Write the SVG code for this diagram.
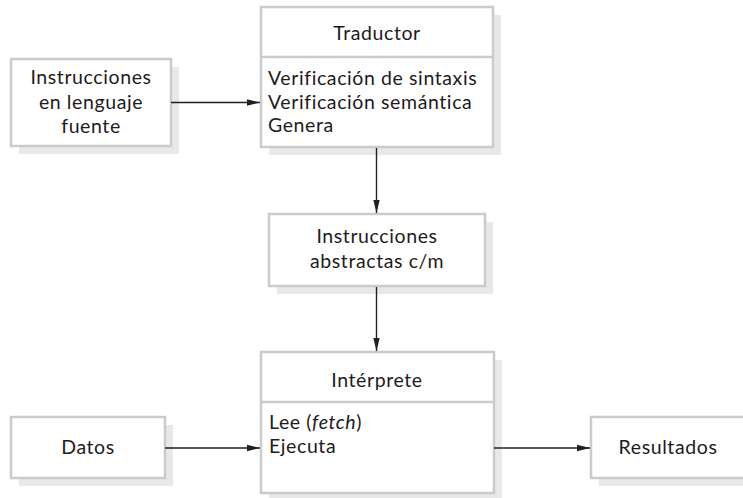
<svg xmlns="http://www.w3.org/2000/svg" width="743" height="498" viewBox="0 0 743 498">
<style>
.box{fill:#fff;stroke:#cbcbcb;stroke-width:2.5}
.sh{fill:#e8e8e8}
.div{stroke:#cbcbcb;stroke-width:2.5}
text{font-family:Lato,"Open Sans",sans-serif;font-size:19.5px;letter-spacing:0.6px;fill:#1e1b1c}
.c{text-anchor:middle}
.ln{stroke:#231f20;stroke-width:1.4;fill:none}
</style>
<defs>
<marker id="ah" markerWidth="13" markerHeight="8" refX="13" refY="4" orient="auto" markerUnits="userSpaceOnUse">
<path d="M0,0.8 L13,4 L0,7.2 Z" fill="#231f20"/>
</marker>
</defs>
<g id="fuente">
<rect class="sh" x="19" y="67" width="160" height="87"/>
<rect class="box" x="11" y="59" width="160" height="87"/>
<text class="c" x="91" y="84">Instrucciones</text>
<text class="c" x="91" y="109">en lenguaje</text>
<text class="c" x="91" y="133">fuente</text>
</g>
<g id="traductor">
<rect class="sh" x="269" y="15" width="232" height="140"/>
<rect class="box" x="261" y="7" width="232" height="140"/>
<line class="div" x1="261" y1="57" x2="493" y2="57"/>
<text class="c" x="377" y="40">Traductor</text>
<text x="268" y="85">Verificación de sintaxis</text>
<text x="268" y="108.5">Verificación semántica</text>
<text x="268" y="132">Genera</text>
</g>
<g id="abstractas">
<rect class="sh" x="277" y="222" width="216" height="72"/>
<rect class="box" x="269" y="214" width="216" height="72"/>
<text class="c" x="377" y="243">Instrucciones</text>
<text class="c" x="377" y="268">abstractas c/m</text>
</g>
<g id="interprete">
<rect class="sh" x="269" y="360" width="233" height="141"/>
<rect class="box" x="261" y="352" width="233" height="141"/>
<line class="div" x1="261" y1="402" x2="494" y2="402"/>
<text class="c" x="377" y="387">Intérprete</text>
<text x="269" y="429">Lee (<tspan font-style="italic">fetch</tspan>)</text>
<text x="269" y="453">Ejecuta</text>
</g>
<g id="datos">
<rect class="sh" x="19" y="425" width="154" height="61"/>
<rect class="box" x="11" y="417" width="154" height="61"/>
<text class="c" x="88" y="454">Datos</text>
</g>
<g id="resultados">
<rect class="sh" x="599" y="425" width="160" height="61"/>
<rect class="box" x="591" y="417" width="160" height="61"/>
<text class="c" x="668" y="454">Resultados</text>
</g>
<g id="connectors">
<line class="ln" x1="171" y1="102.5" x2="260" y2="102.5" marker-end="url(#ah)"/>
<line class="ln" x1="376.5" y1="148" x2="376.5" y2="213" marker-end="url(#ah)"/>
<line class="ln" x1="376.5" y1="287" x2="376.5" y2="351" marker-end="url(#ah)"/>
<line class="ln" x1="165" y1="448" x2="260" y2="448" marker-end="url(#ah)"/>
<line class="ln" x1="494" y1="448" x2="590" y2="448" marker-end="url(#ah)"/>
</g>
</svg>
